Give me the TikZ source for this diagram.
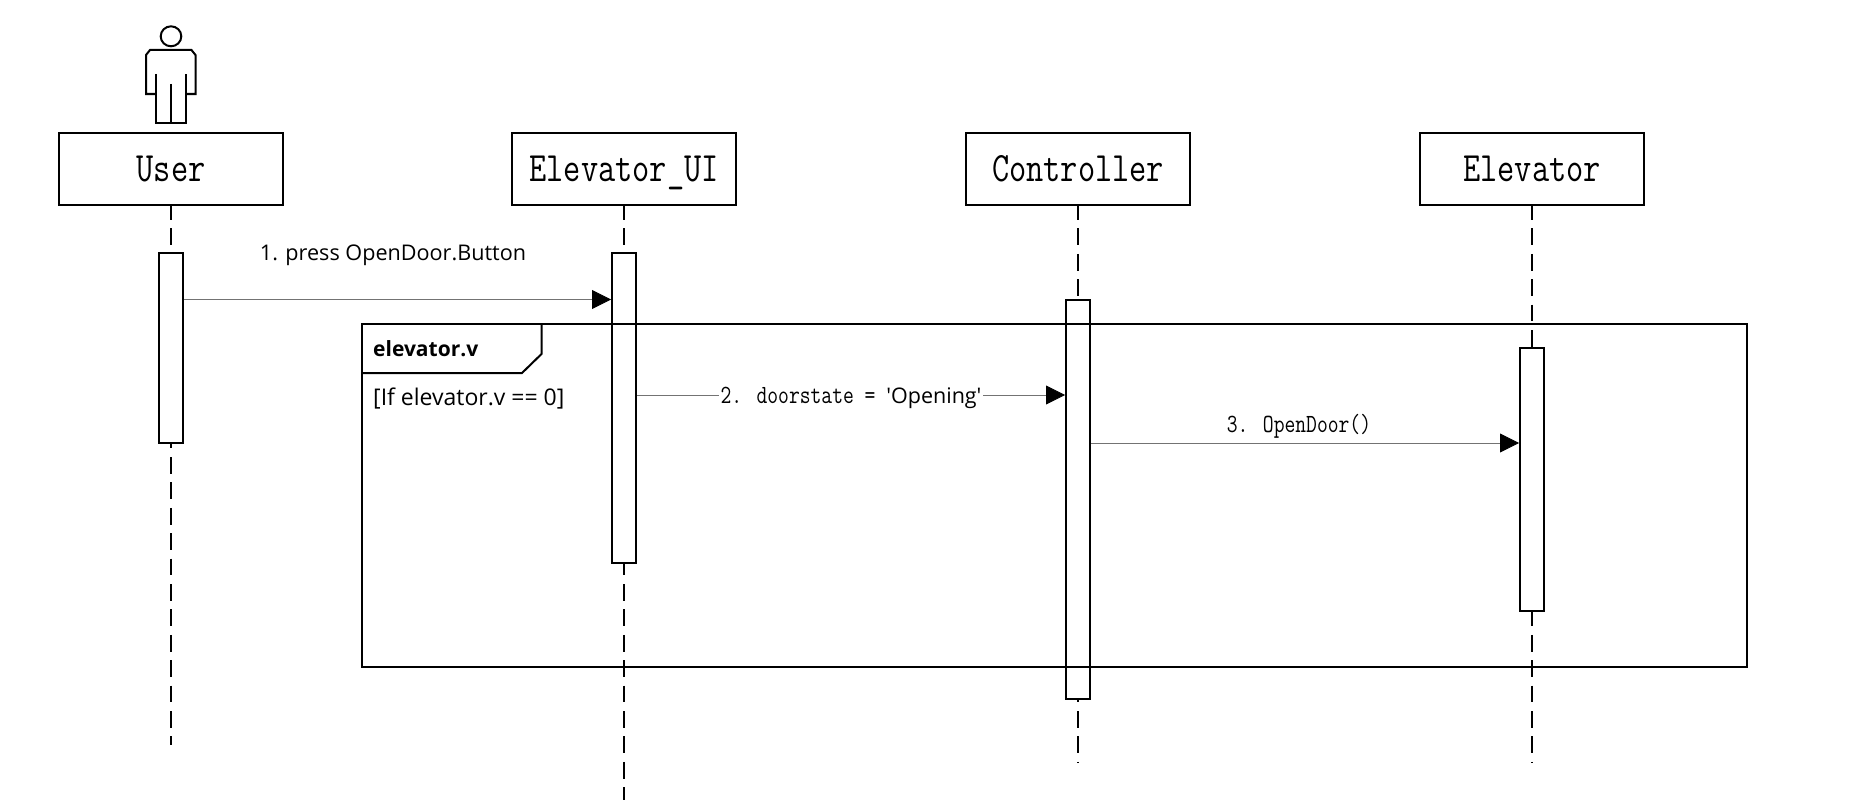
\documentclass[tikz,border=0pt]{standalone}
\usepackage{fontspec}
\usepackage{graphicx}
\setmainfont{Open Sans}
\usetikzlibrary{arrows.meta,calc}
\newcommand{\monolabel}[2]{\scalebox{1}[1.25]{\fontsize{#1}{#1}\selectfont\ttfamily\vphantom{Elevator}#2}}
\newcommand{\boxlabel}[1]{\raisebox{0pt}[\dimexpr\height+7pt\relax][\depth]{\scalebox{1}[1.25]{\fontsize{33.4}{33.4}\selectfont\ttfamily\vphantom{\_lE}#1}}}
\newcommand{\sanslabel}[2]{\fontsize{#1}{#1}\selectfont #2}
\tikzset{
  thickline/.style={line width=2pt,black},
  lifebox/.style={draw,thickline,minimum width=224pt,minimum height=72pt,inner sep=0pt,fill=white},
  lifeline/.style={line width=1.5pt,black,dash pattern=on 16.7pt off 8.7pt,dash phase=3pt},
  activation/.style={draw,thickline,fill=white,minimum width=24pt,inner sep=0pt},
  message/.style={line width=0.8pt,black!55,-{Triangle[length=19pt,width=19pt,color=black,fill=black]},shorten >=0pt},
  framebox/.style={draw,line width=2.3pt,black,inner sep=0pt},
  msgtext/.style={inner sep=0pt,black,text=black},
}
\begin{document}
\begin{tikzpicture}[x=1pt,y=-1pt]
\useasboundingbox (0,-1) rectangle (1868,799);
\fill[white] (0,-1) rectangle (1868,799);

% lifeline heads
\node[lifebox] (user) at (171,168) {\boxlabel{User}};
\node[lifebox] (ui) at (624,168) {\boxlabel{Elevator\_UI}};
\node[lifebox] (ctrl) at (1078,168) {\boxlabel{Controller}};
\node[lifebox] (elev) at (1532,168) {\boxlabel{Elevator}};

% lifeline ends
\coordinate (userend) at (171,744);
\coordinate (uiend) at (624,799);
\coordinate (ctrlend) at (1078,762);
\coordinate (elevend) at (1532,762);
\draw[lifeline] (user.south) -- (userend);
\draw[lifeline] (ui.south) -- (uiend);
\draw[lifeline] (ctrl.south) -- (ctrlend);
\draw[lifeline] (elev.south) -- (elevend);

% actor
\begin{scope}[yshift=1pt]
\draw[line width=2pt,line join=miter] (171,36.3) ellipse [x radius=10.3,y radius=10];
\draw[line width=2pt] (156,74) -- (156,122.7) -- (185.5,122.7) -- (185.5,74);
\draw[line width=2pt] (171,84) -- (171,122.7);
\draw[line width=2pt] (156,94) -- (146,94) -- (146,55) -- (150,50) -- (191.5,50) -- (195.5,55) -- (195.5,94) -- (185.5,94);
\end{scope}

% activations
\node[activation,minimum height=190pt] (uact) at (170.5,347) {};
\node[activation,minimum height=310pt] (uiact) at (624,407) {};
\node[activation,minimum height=399pt] (ctact) at (1078,498.5) {};
\node[activation,minimum height=263pt] (elact) at (1532,478.5) {};

% combined fragment
\node[framebox,minimum width=1385pt,minimum height=343pt] (frag) at (1054.5,494.5) {};
\coordinate (tabA) at (541.5,323);
\coordinate (tabB) at (541.5,353);
\coordinate (tabC) at (522,372);
\coordinate (tabD) at (362,372);
\draw[thickline] (tabA) -- (tabB) -- (tabC) -- (tabD);
\node[msgtext,anchor=west] (fragname) at (373,348) {\sanslabel{21}{\bfseries elevator.v}};
\node[msgtext,anchor=west] (guard) at (373,398) {\sanslabel{23}{[If elevator.v == 0]}};

% messages
\coordinate (m1) at (0,298.5);
\coordinate (m2) at (0,394);
\coordinate (m3) at (0,442);
\draw[message] (uact.east |- m1) -- (uiact.west |- m1);
\draw[message] (uiact.east |- m2) -- node[msgtext,fill=white,inner xsep=2pt,inner ysep=1pt,yshift=-3pt] (m2label) {\monolabel{21}{2. doorstate = }\sanslabel{21.5}{\textquotesingle Opening\textquotesingle}} (ctact.west |- m2);
\draw[message] (ctact.east |- m3) -- (elact.west |- m3);
\node[msgtext] (m1label) at (393,254) {\sanslabel{21.6}{1. press OpenDoor.Button}};
\node[msgtext] (m3label) at (1299,425) {\monolabel{21}{3. OpenDoor()}};
\end{tikzpicture}
\end{document}
